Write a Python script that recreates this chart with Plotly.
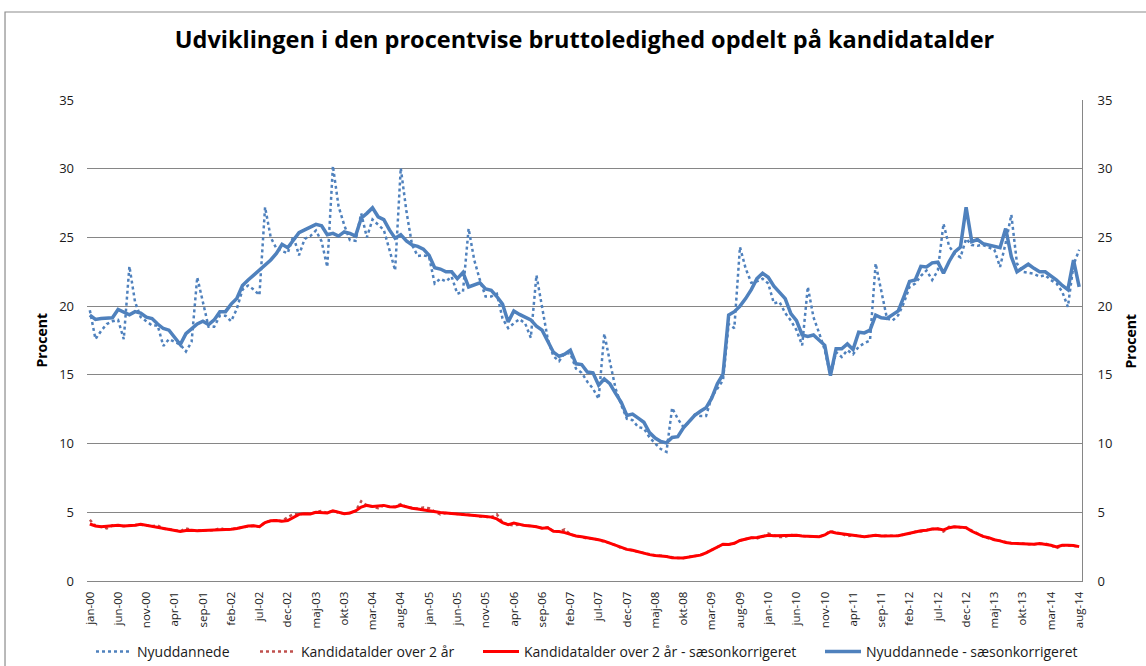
import plotly.graph_objects as go

month_names = ["jan", "feb", "mar", "apr", "maj", "jun", "jul", "aug", "sep", "okt", "nov", "dec"]
years = ["00", "01", "02", "03", "04", "05", "06", "07", "08", "09", "10", "11", "12", "13", "14"]
categories = [m + "-" + y for y in years for m in month_names][:176]
tick_labels = categories[::5]

nyud = [
    19.7, 17.6, 18.2, 18.7, 18.9, 19.0, 17.6, 22.9, 20.3, 19.2,
    18.9, 18.6, 18.6, 17.1, 17.6, 17.4, 17.2, 16.7, 17.4, 22.1,
    20.3, 18.5, 18.5, 19.3, 19.3, 18.9, 19.8, 21.2, 21.5, 21.2,
    20.8, 27.2, 25.0, 24.2, 24.0, 23.85, 25.1, 23.7, 24.9, 25.1,
    25.5, 24.7, 22.85, 30.2, 27.25, 25.9, 24.8, 24.75, 26.75, 25.0,
    26.3, 25.9, 25.55, 24.1, 22.6, 30.05, 26.9, 24.45, 23.65, 23.7,
    23.6, 21.65, 22.0, 21.8, 22.15, 20.9, 21.05, 25.65, 23.35, 21.9,
    20.7, 20.7, 20.9, 19.1, 18.4, 18.75, 19.05, 18.75, 17.7, 22.25,
    20.0, 17.6, 16.35, 16.0, 16.6, 16.55, 15.45, 15.15, 14.5, 14.0,
    13.25, 18.0, 15.95, 14.0, 12.8, 11.8, 11.7, 11.2, 11.1, 10.45,
    10.0, 9.6, 9.4, 12.6, 11.8, 11.2, 11.55, 12.1, 12.0, 12.0,
    13.4, 14.05, 14.6, 18.7, 18.4, 24.3, 22.75, 21.7, 21.8, 22.0,
    21.65, 20.2, 20.3, 19.5, 18.95, 18.25, 17.15, 21.4, 19.2, 18.05,
    16.8, 14.95, 16.65, 16.3, 16.8, 16.5, 17.05, 17.3, 17.5, 23.1,
    21.0, 19.1, 18.95, 19.35, 20.25, 21.4, 21.65, 22.2, 22.6, 21.9,
    22.6, 26.0, 24.35, 23.8, 23.55, 24.9, 24.45, 24.4, 24.45, 24.3,
    24.1, 22.85, 24.6, 26.65, 23.1, 22.5, 22.4, 22.35, 22.15, 22.25,
    21.9, 21.65, 21.05, 19.95, 23.0, 24.1,
]

kand = [
    4.45, 4.02, 3.95, 3.83, 4.05, 4.02, 4.0, 4.03, 4.05, 4.1,
    4.05, 3.98, 4.05, 3.8, 3.78, 3.72, 3.62, 3.83, 3.7, 3.68,
    3.7, 3.72, 3.7, 3.85, 3.72, 3.75, 3.84, 3.92, 3.98, 4.02,
    3.95, 4.28, 4.38, 4.42, 4.35, 4.65, 4.85, 4.85, 4.92, 4.88,
    5.02, 5.1, 4.95, 5.12, 4.98, 4.92, 4.95, 5.1, 5.8, 5.5,
    5.42, 5.3, 5.5, 5.4, 5.4, 5.6, 5.38, 5.3, 5.25, 5.35,
    5.3, 5.05, 4.85, 4.95, 4.92, 4.89, 4.85, 4.82, 4.77, 4.7,
    4.7, 4.65, 4.85, 4.25, 4.1, 4.05, 4.1, 4.03, 4.0, 3.95,
    3.84, 3.9, 3.62, 3.6, 3.75, 3.38, 3.28, 3.22, 3.1, 3.1,
    3.0, 2.9, 2.75, 2.6, 2.4, 2.3, 2.24, 2.12, 2.02, 1.92,
    1.86, 1.84, 1.78, 1.7, 1.68, 1.68, 1.74, 1.8, 1.88, 2.05,
    2.25, 2.45, 2.68, 2.66, 2.74, 2.95, 3.05, 3.15, 3.1, 3.22,
    3.45, 3.3, 3.2, 3.22, 3.34, 3.32, 3.27, 3.24, 3.22, 3.22,
    3.35, 3.65, 3.5, 3.45, 3.25, 3.35, 3.28, 3.22, 3.28, 3.32,
    3.28, 3.27, 3.3, 3.3, 3.38, 3.45, 3.58, 3.6, 3.7, 3.78,
    3.8, 3.6, 3.95, 3.95, 3.92, 3.88, 3.65, 3.42, 3.25, 3.1,
    3.0, 2.92, 2.8, 2.75, 2.75, 2.7, 2.68, 2.68, 2.72, 2.72,
    2.6, 2.38, 2.6, 2.6, 2.55, 2.5,
]

kand_sa = [
    4.15, 4.0, 3.95, 3.98, 4.05, 4.05, 4.0, 4.0, 4.05, 4.12,
    4.05, 4.0, 3.88, 3.82, 3.78, 3.7, 3.6, 3.68, 3.7, 3.66,
    3.68, 3.7, 3.7, 3.72, 3.72, 3.76, 3.82, 3.9, 4.0, 4.02,
    3.95, 4.25, 4.38, 4.4, 4.35, 4.4, 4.62, 4.85, 4.9, 4.88,
    5.0, 5.0, 4.95, 5.1, 4.98, 4.9, 4.95, 5.1, 5.38, 5.5,
    5.42, 5.45, 5.5, 5.4, 5.38, 5.5, 5.38, 5.3, 5.24, 5.17,
    5.12, 5.05, 4.98, 4.95, 4.92, 4.89, 4.85, 4.8, 4.77, 4.73,
    4.7, 4.65, 4.52, 4.25, 4.1, 4.22, 4.1, 4.03, 4.0, 3.95,
    3.84, 3.88, 3.62, 3.6, 3.52, 3.38, 3.28, 3.22, 3.15, 3.1,
    3.0, 2.9, 2.75, 2.6, 2.4, 2.3, 2.24, 2.12, 2.02, 1.92,
    1.86, 1.84, 1.78, 1.7, 1.68, 1.68, 1.74, 1.8, 1.88, 2.05,
    2.25, 2.45, 2.68, 2.66, 2.74, 2.95, 3.05, 3.15, 3.17, 3.22,
    3.32, 3.3, 3.3, 3.34, 3.34, 3.32, 3.27, 3.24, 3.22, 3.22,
    3.35, 3.58, 3.5, 3.45, 3.42, 3.35, 3.28, 3.22, 3.28, 3.32,
    3.28, 3.27, 3.26, 3.3, 3.38, 3.48, 3.58, 3.65, 3.7, 3.78,
    3.8, 3.72, 3.88, 3.95, 3.92, 3.88, 3.62, 3.42, 3.25, 3.15,
    3.0, 2.92, 2.8, 2.75, 2.72, 2.7, 2.68, 2.68, 2.72, 2.66,
    2.6, 2.48, 2.6, 2.6, 2.58, 2.5,
]

nyud_sa = [
    19.34, 19.03, 19.1, 19.1, 19.15, 19.76, 19.56, 19.37, 19.6, 19.5,
    19.2, 19.1, 18.7, 18.37, 18.25, 17.7, 17.2, 18.0, 18.37, 18.7,
    18.9, 18.66, 19.0, 19.6, 19.6, 20.15, 20.56, 21.5, 21.9, 22.26,
    22.7, 23.0, 23.36, 23.84, 24.5, 24.25, 24.85, 25.35, 25.55, 25.75,
    25.95, 25.85, 25.2, 25.3, 25.1, 25.4, 25.3, 25.1, 26.4, 26.75,
    27.15, 26.5, 26.3, 25.55, 24.95, 25.2, 24.75, 24.45, 24.35, 24.15,
    23.7, 22.8, 22.7, 22.5, 22.5, 22.0, 22.45, 21.4, 21.55, 21.7,
    21.25, 21.15, 20.7, 20.15, 18.85, 19.65, 19.4, 19.2, 19.0, 18.55,
    18.25, 17.45, 16.65, 16.35, 16.5, 16.8, 15.8, 15.75, 15.2, 15.15,
    14.25, 14.7, 14.35, 13.65, 13.0, 12.05, 12.15, 11.85, 11.55, 10.8,
    10.4, 10.15, 10.05, 10.45, 10.5, 11.15, 11.6, 12.05, 12.35, 12.6,
    13.3, 14.35, 15.05, 19.35, 19.6, 20.0, 20.55, 21.2, 22.0, 22.4,
    22.1, 21.45, 21.0, 20.55, 19.45, 18.95, 17.9, 17.8, 17.9, 17.5,
    17.15, 14.95, 16.9, 16.9, 17.25, 16.85, 18.1, 18.05, 18.25, 19.35,
    19.15, 19.1, 19.4, 19.65, 20.7, 21.8, 21.9, 22.9, 22.85, 23.15,
    23.2, 22.4, 23.25, 23.95, 24.3, 27.2, 24.7, 24.85, 24.55, 24.45,
    24.3, 24.25, 25.65, 23.6, 22.5, 22.8, 23.05, 22.75, 22.5, 22.5,
    22.2, 21.9, 21.5, 21.2, 23.35, 21.4,
]

y_ticks = [0, 5, 10, 15, 20, 25, 30, 35]

BLUE = "#4F81BD"
RED = "#FF0000"
DARK_RED = "#C0504D"
GRID = "#868686"
FONT = "Open Sans"

fig = go.Figure()
fig.add_trace(go.Scatter(x=categories, y=nyud, name="Nyuddannede", mode="lines",
                         line=dict(color=BLUE, width=2.5, dash="dot"), legend="legend"))
fig.add_trace(go.Scatter(x=categories, y=kand, name="Kandidatalder over 2 år", mode="lines",
                         line=dict(color=DARK_RED, width=2.5, dash="dot"), legend="legend2"))
fig.add_trace(go.Scatter(x=categories, y=kand_sa, name="Kandidatalder over 2 år - sæsonkorrigeret",
                         mode="lines", line=dict(color=RED, width=3), legend="legend3"))
fig.add_trace(go.Scatter(x=categories, y=nyud_sa, name="Nyuddannede - sæsonkorrigeret",
                         mode="lines", line=dict(color=BLUE, width=3.5), yaxis="y2",
                         legend="legend4"))

legend_common = dict(orientation="h", xanchor="left", yref="container", y=1 - 652 / 666,
                     yanchor="middle", font=dict(size=14, color="#1a1a1a"),
                     bgcolor="rgba(0,0,0,0)", itemwidth=36)

fig.update_layout(
    width=1146, height=666,
    margin=dict(l=87, r=64, t=100, b=85, autoexpand=False),
    paper_bgcolor="white", plot_bgcolor="white",
    font=dict(family=FONT, color="#1a1a1a", size=12),
    title=dict(text="<b>Udviklingen i den procentvise bruttoledighed opdelt på kandidatalder</b>",
               x=0.5, xref="paper", xanchor="center",
               y=1 - 40 / 666, yref="container", yanchor="middle",
               font=dict(family=FONT, size=23.5, color="#000000")),
    xaxis=dict(type="category", range=[-0.5, 175.5], tickmode="array",
               tickvals=tick_labels, ticktext=tick_labels, tickangle=-90,
               tickfont=dict(size=11.5, color="#1a1a1a"), showgrid=False,
               showline=True, linecolor=GRID, linewidth=1, ticks="",
               ticklabelstandoff=5, zeroline=False, automargin=False),
    yaxis=dict(range=[0, 35], tickmode="array", tickvals=y_ticks,
               showgrid=True, gridcolor=GRID, gridwidth=1, zeroline=False,
               showline=False, ticks="", ticklabelstandoff=12, automargin=False,
               tickfont=dict(size=13, color="#1a1a1a")),
    yaxis2=dict(range=[0, 35], tickmode="array", tickvals=y_ticks, overlaying="y",
                side="right", showgrid=False, zeroline=False, showline=True,
                linecolor=GRID, linewidth=1, ticks="", ticklabelstandoff=12, automargin=False,
                tickfont=dict(size=13, color="#1a1a1a")),
    legend=dict(x=(97 - 93) / 995, **legend_common),
    legend2=dict(x=(261 - 93) / 995, **legend_common),
    legend3=dict(x=(484 - 93) / 995, **legend_common),
    legend4=dict(x=(826 - 93) / 995, **legend_common),
    showlegend=True,
)

fig.add_annotation(text="<b>Procent</b>", xref="paper", yref="paper", x=-0.0462, y=0.5,
                   textangle=-90, showarrow=False, font=dict(size=14, color="#000000"),
                   xanchor="center", yanchor="middle")
fig.add_annotation(text="<b>Procent</b>", xref="paper", yref="paper", x=1.0492, y=0.5,
                   textangle=-90, showarrow=False, font=dict(size=14, color="#000000"),
                   xanchor="center", yanchor="middle")

fig.add_shape(type="rect", xref="paper", yref="paper", x0=-0.0824, x1=1.08, y0=-0.2, y1=1.183,
              line=dict(color="#8c8c8c", width=1.2), fillcolor="rgba(0,0,0,0)", layer="below")

fig.write_html("out.html", config={"displayModeBar": False},
               post_script="document.body.style.margin='0px';")
